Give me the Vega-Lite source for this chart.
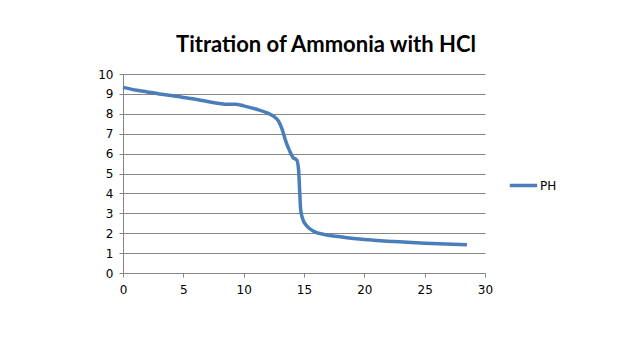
{
  "$schema": "https://vega.github.io/schema/vega-lite/v6.json",
  "width": 362,
  "height": 199,
  "autosize": {"type": "none"},
  "padding": {"left": 123, "top": 74, "right": 159, "bottom": 89},
  "background": "white",
  "title": {
    "text": "Titration of Ammonia with HCl",
    "font": "Lato",
    "fontWeight": "bold",
    "fontSize": 22,
    "color": "#000000",
    "anchor": "middle",
    "dx": 22,
    "offset": 11
  },
  "data": {
    "values": [
      {"mL": 0, "pH": 9.33, "series": "PH"},
      {"mL": 1, "pH": 9.2, "series": "PH"},
      {"mL": 2, "pH": 9.1, "series": "PH"},
      {"mL": 3, "pH": 9.0, "series": "PH"},
      {"mL": 4, "pH": 8.92, "series": "PH"},
      {"mL": 5, "pH": 8.82, "series": "PH"},
      {"mL": 6, "pH": 8.73, "series": "PH"},
      {"mL": 7, "pH": 8.62, "series": "PH"},
      {"mL": 8, "pH": 8.52, "series": "PH"},
      {"mL": 8.6, "pH": 8.48, "series": "PH"},
      {"mL": 9.3, "pH": 8.48, "series": "PH"},
      {"mL": 10, "pH": 8.4, "series": "PH"},
      {"mL": 11, "pH": 8.24, "series": "PH"},
      {"mL": 12, "pH": 8.03, "series": "PH"},
      {"mL": 12.5, "pH": 7.87, "series": "PH"},
      {"mL": 12.9, "pH": 7.62, "series": "PH"},
      {"mL": 13.2, "pH": 7.2, "series": "PH"},
      {"mL": 13.5, "pH": 6.6, "series": "PH"},
      {"mL": 13.8, "pH": 6.15, "series": "PH"},
      {"mL": 14.1, "pH": 5.8, "series": "PH"},
      {"mL": 14.4, "pH": 5.68, "series": "PH"},
      {"mL": 14.55, "pH": 5.2, "series": "PH"},
      {"mL": 14.65, "pH": 4.0, "series": "PH"},
      {"mL": 14.72, "pH": 3.2, "series": "PH"},
      {"mL": 14.9, "pH": 2.7, "series": "PH"},
      {"mL": 15.2, "pH": 2.39, "series": "PH"},
      {"mL": 15.8, "pH": 2.1, "series": "PH"},
      {"mL": 16.7, "pH": 1.93, "series": "PH"},
      {"mL": 18, "pH": 1.82, "series": "PH"},
      {"mL": 20, "pH": 1.68, "series": "PH"},
      {"mL": 22.5, "pH": 1.58, "series": "PH"},
      {"mL": 25, "pH": 1.5, "series": "PH"},
      {"mL": 28.5, "pH": 1.42, "series": "PH"}
    ]
  },
  "mark": {"type": "line", "interpolate": "monotone", "strokeWidth": 3.5},
  "encoding": {
    "x": {
      "field": "mL",
      "type": "quantitative",
      "scale": {"domain": [0, 30], "nice": false, "zero": true},
      "axis": {
        "title": null,
        "values": [0, 5, 10, 15, 20, 25, 30],
        "grid": false,
        "domainColor": "#868686",
        "tickColor": "#868686",
        "tickSize": 4,
        "labelPadding": 7,
        "labelFlush": false,
        "labelOverlap": false,
        "labelFont": "DejaVu Sans",
        "labelFontSize": 12,
        "labelColor": "#000000"
      }
    },
    "y": {
      "field": "pH",
      "type": "quantitative",
      "scale": {"domain": [0, 10], "nice": false},
      "axis": {
        "title": null,
        "values": [0, 1, 2, 3, 4, 5, 6, 7, 8, 9, 10],
        "grid": true,
        "gridColor": "#868686",
        "gridOpacity": 1,
        "domainColor": "#868686",
        "tickColor": "#868686",
        "tickSize": 4,
        "labelPadding": 6,
        "labelOverlap": false,
        "labelFont": "DejaVu Sans",
        "labelFontSize": 12,
        "labelColor": "#000000"
      }
    },
    "color": {
      "field": "series",
      "type": "nominal",
      "scale": {"range": ["#4A7EBB"]},
      "legend": {
        "title": null,
        "orient": "none",
        "legendX": 385,
        "legendY": 96,
        "symbolType": "stroke",
        "symbolSize": 750,
        "symbolStrokeWidth": 3.5,
        "labelFont": "DejaVu Sans",
        "labelFontSize": 12,
        "labelColor": "#000000",
        "labelOffset": 1
      }
    }
  },
  "config": {"view": {"stroke": null}}
}
